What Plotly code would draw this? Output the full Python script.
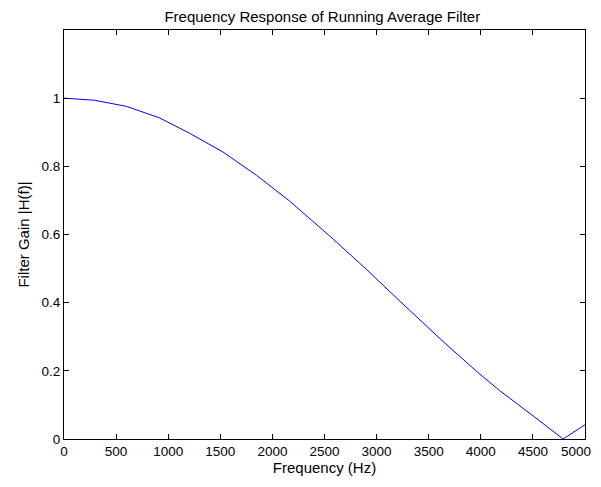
import plotly.graph_objects as go

freq_hz = [0, 290, 599, 918, 1206, 1526, 1846, 2166, 2585, 2905, 3225,
           3638, 3958, 4181, 4501, 4790, 5000]
gain = [1.0, 0.994, 0.976, 0.942, 0.897, 0.842, 0.774, 0.698, 0.586,
        0.497, 0.404, 0.286, 0.199, 0.142, 0.068, 0.0, 0.042]

x_ticks = [0, 500, 1000, 1500, 2000, 2500, 3000, 3500, 4000, 4500, 5000]
x_tick_labels = ["0", "500", "1000", "1500", "2000", "2500", "3000", "3500",
                 "4000", "4500", "5000"]
y_ticks = [0, 0.2, 0.4, 0.6, 0.8, 1]
y_tick_labels = ["0", "0.2", "0.4", "0.6", "0.8", "1"]

font = dict(family="Liberation Sans, Arial, sans-serif", size=15, color="black")
tick_font = dict(family="Liberation Sans, Arial, sans-serif", size=13.5, color="black")

fig = go.Figure()
fig.add_trace(go.Scatter(x=freq_hz, y=gain, mode="lines",
                         line=dict(color="rgb(0,0,255)", width=1),
                         showlegend=False, hoverinfo="skip"))

axis_common = dict(showgrid=False, zeroline=False, showline=True, linecolor="black",
                   linewidth=1, mirror="ticks", ticks="inside", ticklen=5,
                   tickcolor="black", tickwidth=1, tickfont=tick_font,
                   ticklabeloverflow="allow", automargin=False)

# last x tick label drawn as an annotation so it is not clipped at the right edge
shown_x_labels = x_tick_labels[:-1] + [""]

fig.update_layout(
    width=593, height=479,
    margin=dict(l=56, r=16, t=22, b=48, autoexpand=False),
    paper_bgcolor="white", plot_bgcolor="white",
    font=font,
    title=dict(text="Frequency Response of Running Average Filter",
               x=0.53, xanchor="center", y=0.982, yanchor="middle",
               font=font),
    xaxis=dict(range=[0, 5000], tickvals=x_ticks, ticktext=shown_x_labels,
               title=dict(text="Frequency (Hz)", standoff=3, font=font),
               **axis_common),
    yaxis=dict(range=[0, 1.2], tickvals=y_ticks, ticktext=y_tick_labels,
               title=dict(text="Filter Gain |H(f)|", standoff=8, font=font),
               **axis_common),
    annotations=[dict(text=x_tick_labels[-1], x=x_ticks[-1], xref="x",
                      y=0, yref="paper", xanchor="right", yanchor="top",
                      xshift=8, yshift=-3, showarrow=False, font=tick_font)],
)

fig.write_html("out.html")
